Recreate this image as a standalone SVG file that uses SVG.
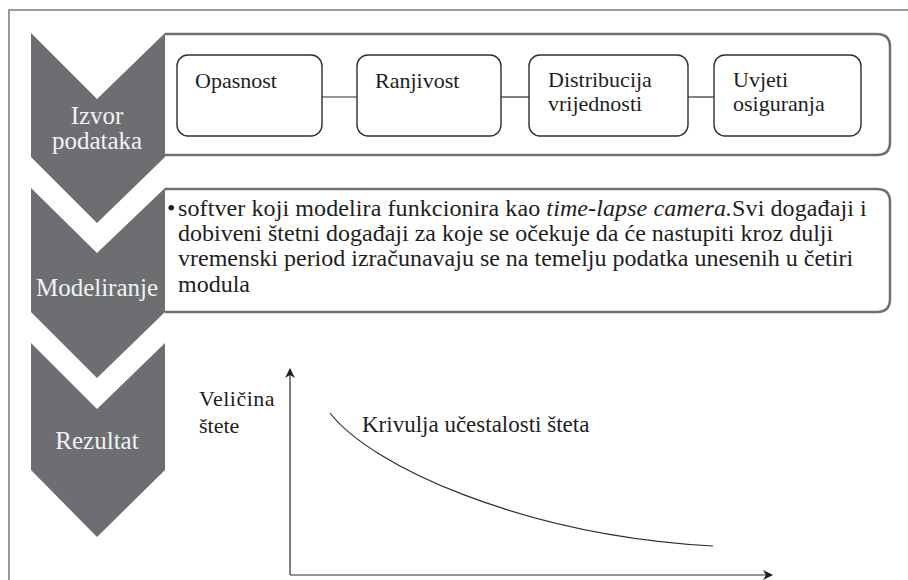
<svg xmlns="http://www.w3.org/2000/svg" width="908" height="580" viewBox="0 0 908 580" font-family="Liberation Serif, serif">
<defs>
<style>
.chev{fill:#6d6e72;}
.panel{fill:#fff;stroke:#6f6f6f;stroke-width:2.5;}
.box{fill:#fff;stroke:#2e2e2e;stroke-width:1.4;}
.ln{stroke:#2e2e2e;stroke-width:1.2;fill:none;}
.t{font-size:22px;fill:#1e1e1e;}
.p{font-size:24px;fill:#1e1e1e;}
.k{font-size:23px;fill:#1e1e1e;}
.cl{font-size:25px;fill:#f2f2f2;text-anchor:middle;}
</style>
<marker id="ah" viewBox="0 0 10 10" refX="9" refY="5" markerWidth="10" markerHeight="10" markerUnits="userSpaceOnUse" orient="auto">
<path d="M0,0 L10,5 L0,10 L3,5 Z" fill="#1e1e1e"/>
</marker>
</defs>
<rect width="908" height="580" fill="#fff"/>
<path d="M9,580 L9,10 L908,10" fill="none" stroke="#7a7a7a" stroke-width="1.5"/>

<g id="chevron-izvor">
<polygon class="chev" points="31,33 97,99 165,33 165,157 97,223 31,157"/>
<text class="cl" font-family="Liberation Serif, serif" x="97" y="124">Izvor</text>
<text class="cl" font-family="Liberation Serif, serif" x="97" y="149">podataka</text>
</g>
<g id="chevron-modeliranje">
<polygon class="chev" points="31,188 97,253 165,188 165,312 97,378 31,312"/>
<text class="cl" font-family="Liberation Serif, serif" x="97" y="296">Modeliranje</text>
</g>
<g id="chevron-rezultat">
<polygon class="chev" points="31,343 97,409 165,343 165,470 97,537 31,470"/>
<text class="cl" font-family="Liberation Serif, serif" x="97" y="449">Rezultat</text>
</g>

<g id="panel-izvor">
<path class="panel" d="M165,34 L877,34 Q890,34 890,47 L890,142 Q890,155 877,155 L165,155"/>
</g>
<g id="panel-modeliranje">
<path class="panel" d="M165,189 L877,189 Q890,189 890,202 L890,299 Q890,312 877,312 L165,312"/>
<text class="p" font-family="Liberation Serif, serif" x="167" y="216">•</text>
<text class="p" font-family="Liberation Serif, serif" x="178" y="216" letter-spacing="0.1">softver koji modelira funkcionira kao <tspan font-style="italic">time-lapse camera.</tspan>Svi događaji i</text>
<text class="p" font-family="Liberation Serif, serif" x="178" y="241">dobiveni štetni događaji za koje se očekuje da će nastupiti kroz dulji</text>
<text class="p" font-family="Liberation Serif, serif" x="178" y="266">vremenski period izračunavaju se na temelju podatka unesenih u četiri</text>
<text class="p" font-family="Liberation Serif, serif" x="178" y="292">modula</text>
</g>

<g id="connectors">
<line class="ln" x1="322" y1="97" x2="357" y2="97"/>
<line class="ln" x1="501" y1="97" x2="529" y2="97"/>
<line class="ln" x1="688" y1="97" x2="714" y2="97"/>
</g>

<g id="node-opasnost">
<rect class="box" x="177" y="55" width="145" height="81" rx="11"/>
<text class="t" font-family="Liberation Serif, serif" x="195" y="88">Opasnost</text>
</g>
<g id="node-ranjivost">
<rect class="box" x="357" y="55" width="144" height="81" rx="11"/>
<text class="t" font-family="Liberation Serif, serif" x="375" y="88">Ranjivost</text>
</g>
<g id="node-distribucija">
<rect class="box" x="529" y="55" width="159" height="81" rx="11"/>
<text class="t" font-family="Liberation Serif, serif" x="548" y="87">Distribucija</text>
<text class="t" font-family="Liberation Serif, serif" x="548" y="111">vrijednosti</text>
</g>
<g id="node-uvjeti">
<rect class="box" x="714" y="55" width="147" height="81" rx="11"/>
<text class="t" font-family="Liberation Serif, serif" x="733" y="87">Uvjeti</text>
<text class="t" font-family="Liberation Serif, serif" x="733" y="111">osiguranja</text>
</g>

<g id="chart">
<line class="ln" x1="290" y1="575" x2="290" y2="369" marker-end="url(#ah)" stroke-width="1.5"/>
<line class="ln" x1="290" y1="575" x2="772" y2="575" marker-end="url(#ah)" stroke-width="1.5"/>
<path class="ln" d="M330,413 C370,465 520,535 713,546"/>
<text class="t" font-family="Liberation Serif, serif" x="199" y="406" letter-spacing="0.5">Veličina</text>
<text class="t" font-family="Liberation Serif, serif" x="199" y="433">štete</text>
<text class="k" font-family="Liberation Serif, serif" x="362" y="432">Krivulja učestalosti šteta</text>
</g>
</svg>
